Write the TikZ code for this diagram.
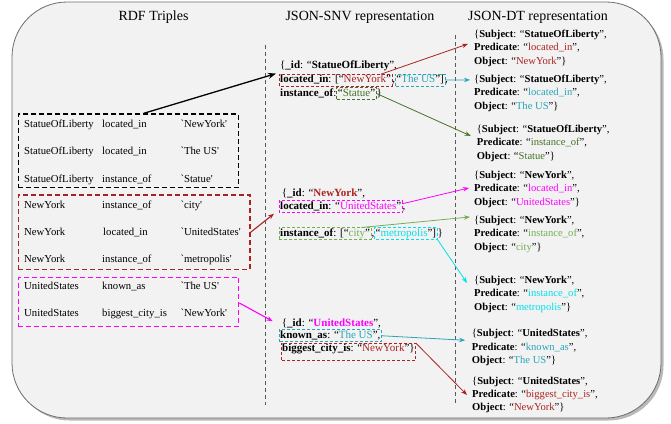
\documentclass[tikz,border=0pt]{standalone}
\usepackage{fontspec}
\setmainfont{Liberation Serif}
\newfontfamily\tripf{Liberation Serif}
\usetikzlibrary{arrows.meta,calc}
\definecolor{dred}{RGB}{170,35,35}
\definecolor{mteal}{RGB}{40,165,185}
\definecolor{dgreen}{RGB}{70,115,40}
\definecolor{lgreen}{RGB}{115,175,85}
\definecolor{mcyan}{RGB}{0,225,235}
\definecolor{mmag}{RGB}{255,0,255}
\definecolor{framefill}{RGB}{242,242,242}
\tikzset{
 txt/.style={anchor=base west, inner sep=0pt, font=\fontsize{11}{13}\selectfont},
 dt/.style={anchor=base west, inner sep=0pt, font=\fontsize{10.6}{13}\selectfont},
 tri/.style={anchor=base west, inner sep=0pt, font=\tripf\fontsize{10.7}{13}\selectfont},
 ttl/.style={font=\fontsize{14}{16}\selectfont, inner sep=0pt},
 bx/.style={txt, inner xsep=1pt, inner ysep=1pt, text height=7.5pt, text depth=2pt},
 boxd/.style={dash pattern=on 3pt off 2pt, line width=0.8pt},
 tbox/.style={draw, line width=1.3pt, dash pattern=on 5pt off 3pt, inner sep=0pt},
 con/.style={-{Stealth[length=6pt,width=4.5pt]}, line width=0.8pt},
 sepline/.style={draw=gray!70!black, dash pattern=on 4pt off 3pt, line width=0.6pt}
}
\newcommand\dtblock[7]{%
 \node[dt] (#1a) at (#2,#3) {\{\textbf{Subject}: “\textbf{#4}”,};
 \node[dt] (#1b) at (#2,#3+13.3) {\textbf{Predicate}: “\textcolor{#7}{#5}”,};
 \node[dt] (#1c) at (#2,#3+26.6) {\textbf{Object}: “\textcolor{#7}{#6}”\}};
}
\newcommand\dashframe[2]{\draw[boxd, draw=#1] (#2.south west) rectangle (#2.north east);}
\begin{document}
\begin{tikzpicture}[x=1pt,y=-1pt]
\useasboundingbox (0,0) rectangle (671,423);
\fill[white] (0,0) rectangle (671,423);
\fill[gray!55, rounded corners=55pt] (14.5,4.5) rectangle (663.5,420.5);
\draw[draw=gray!85!black, fill=framefill, line width=0.8pt, rounded corners=55pt] (12,2) rectangle (661,418);

% titles
\node[ttl] (h1) at (153.5,17) {RDF Triples};
\node[ttl] (h2) at (360,17) {JSON-SNV representation};
\node[ttl] (h3) at (538,17) {JSON-DT representation};

% separators
\coordinate (s1t) at (265,45); \coordinate (s1b) at (265,405);
\coordinate (s2t) at (455,35); \coordinate (s2b) at (455,405);
\draw[sepline] (s1t) -- (s1b);
\draw[sepline] (s2t) -- (s2b);

% triple boxes
\node[tbox, draw=black, minimum width=220.4pt, minimum height=73.3pt] (tb1) at (128.5,150.7) {};
\node[tbox, draw=dred, minimum width=231.7pt, minimum height=74.3pt] (tb2) at (134.2,232.2) {};
\node[tbox, draw=mmag, minimum width=220.4pt, minimum height=49.4pt] (tb3) at (128.5,302) {};

% triples
\node[tri] (r1a) at (24,127.5) {StatueOfLiberty};
\node[tri] (r1b) at (102,127.5) {located\_in};
\node[tri] (r1c) at (180.3,127.5) {`NewYork'};
\node[tri] (r2a) at (24,154.5) {StatueOfLiberty};
\node[tri] (r2b) at (102,154.5) {located\_in};
\node[tri] (r2c) at (180.3,154.5) {`The US'};
\node[tri] (r3a) at (24,182.2) {StatueOfLiberty};
\node[tri] (r3b) at (102,182.2) {instance\_of};
\node[tri] (r3c) at (180.3,182.2) {`Statue'};
\node[tri] (r4a) at (24,208.5) {NewYork};
\node[tri] (r4b) at (102,208.5) {instance\_of};
\node[tri] (r4c) at (180.3,208.5) {`city'};
\node[tri] (r5a) at (24,235.2) {NewYork};
\node[tri] (r5b) at (103,235.2) {located\_in};
\node[tri] (r5c) at (180.3,235.2) {`UnitedStates'};
\node[tri] (r6a) at (24,262.5) {NewYork};
\node[tri] (r6b) at (102,262.5) {instance\_of};
\node[tri] (r6c) at (180.3,262.5) {`metropolis'};
\node[tri] (r7a) at (24,289.5) {UnitedStates};
\node[tri] (r7b) at (102,289.5) {known\_as};
\node[tri] (r7c) at (180.3,289.5) {`The US'};
\node[tri] (r8a) at (24,316.8) {UnitedStates};
\node[tri] (r8b) at (102,316.8) {biggest\_city\_is};
\node[tri] (r8c) at (180.3,316.8) {`NewYork'};

% JSON-SNV block A
\node[txt] (sa1) at (280,68.5) {\{\textbf{\_id}: “\textbf{StatueOfLiberty}”,};
\node[bx] (sa2) at (279,82.8) {\textbf{located\_in}: [“\textcolor{dred}{NewYork}”};
\node[txt] (sa2b) at (sa2.base east) {,\ };
\node[bx] (sa2c) at (sa2b.base east) {“\textcolor{mteal}{The US}”]};
\node[txt] (sa2d) at (sa2c.base east) {,};
\node[txt] (sa3) at (280,96.2) {\textbf{instance\_of}:\ };
\node[bx] (sa3b) at (sa3.base east) {“\textcolor{dgreen}{Statue}”};
\node[txt] (sa3c) at (sa3b.base east) {\}};

% JSON-SNV block B
\node[txt] (sb1) at (281.7,196.2) {\{\textbf{\_id}: “\textbf{\textcolor{dred}{NewYork}}”,};
\node[bx] (sb2) at (279,209.5) {\textbf{located\_in}: “\textcolor{mmag}{UnitedStates}”};
\node[txt] (sb2b) at (sb2.base east) {,};
\node[bx] (sb3) at (279,236.2) {\textbf{instance\_of}: [“\textcolor{lgreen}{city}”};
\node[txt] (sb3b) at (sb3.base east) {,\ };
\node[bx] (sb3c) at (sb3b.base east) {“\textcolor{mcyan}{metropolis}”]};
\node[txt] (sb3d) at (sb3c.base east) {\}};

% JSON-SNV block C
\node[txt] (sc1) at (281.7,326.2) {\{\textbf{\_id}: “\textbf{\textcolor{mmag}{UnitedStates}}”,};
\node[bx] (sc2) at (279,338.5) {\textbf{known\_as}: “\textcolor{mteal}{The US}”,\hspace{8pt}};
\node[bx, text depth=7pt] (sc3) at (281,351.8) {\textbf{biggest\_city\_is}: “\textcolor{dred}{NewYork}”\}};

% dashed frames of the SNV values
\dashframe{dred}{sa2}
\dashframe{mteal}{sa2c}
\dashframe{dgreen}{sa3b}
\dashframe{mmag}{sb2}
\dashframe{lgreen}{sb3}
\dashframe{mcyan}{sb3c}
\dashframe{mteal}{sc2}
\dashframe{dred}{sc3}

% JSON-DT blocks
\dtblock{da}{474}{37.5}{StatueOfLiberty}{located\_in}{NewYork}{dred}
\dtblock{db}{474}{82.5}{StatueOfLiberty}{located\_in}{The US}{mteal}
\dtblock{dc}{476.7}{132.5}{StatueOfLiberty}{instance\_of}{Statue}{dgreen}
\dtblock{dd}{474}{178.5}{NewYork}{located\_in}{UnitedStates}{mmag}
\dtblock{de}{474}{223.5}{NewYork}{instance\_of}{city}{lgreen}
\dtblock{df}{474}{283.5}{NewYork}{instance\_of}{metropolis}{mcyan}
\dtblock{dg}{471.7}{336.8}{UnitedStates}{known\_as}{The US}{mteal}
\dtblock{dh}{472}{384.2}{UnitedStates}{biggest\_city\_is}{NewYork}{dred}

% connectors triples -> SNV
\draw[-{Stealth[length=8pt,width=6pt]}, line width=1.3pt, black] ($(tb1.north)+(15,0)$) -- ($(sa1.south west)+(-4,2.5)$);
\draw[con, dred, line width=1.1pt] (tb2.east) -- ($(sb2.south west)+(-5,1)$);
\draw[con, mmag, line width=1.1pt] ($(tb3.east)+(0,1)$) -- ($(sc1.west)+(-9,-2)$);

% connectors SNV -> DT
\draw[con, dred] ($(sa2.north east)+(-11,0)$) -- ($(dab.west)+(-6,-4)$);
\draw[con, mteal] (sa2c.east) -- ($(dba.west)+(-4,0)$);
\draw[con, dgreen] (sa3b.east) -- ($(dcb.west)+(-6,-7)$);
\draw[con, mmag] ($(sb2.east)+(0,-3)$) -- ($(ddb.west)+(-5,-1)$);
\draw[con, lgreen] ($(sb3.north east)+(-10,0)$) -- ($(dea.west)+(-4,-4)$);
\draw[con, mcyan] (sb3c.south east) -- ($(dfa.west)+(-7,2)$);
\draw[con, mteal] (sc2.east) -- ($(dga.west)+(-6.5,6)$);
\draw[con, dred] (sc3.north east) -- ($(dhb.west)+(-5,0)$);
\end{tikzpicture}
\end{document}
